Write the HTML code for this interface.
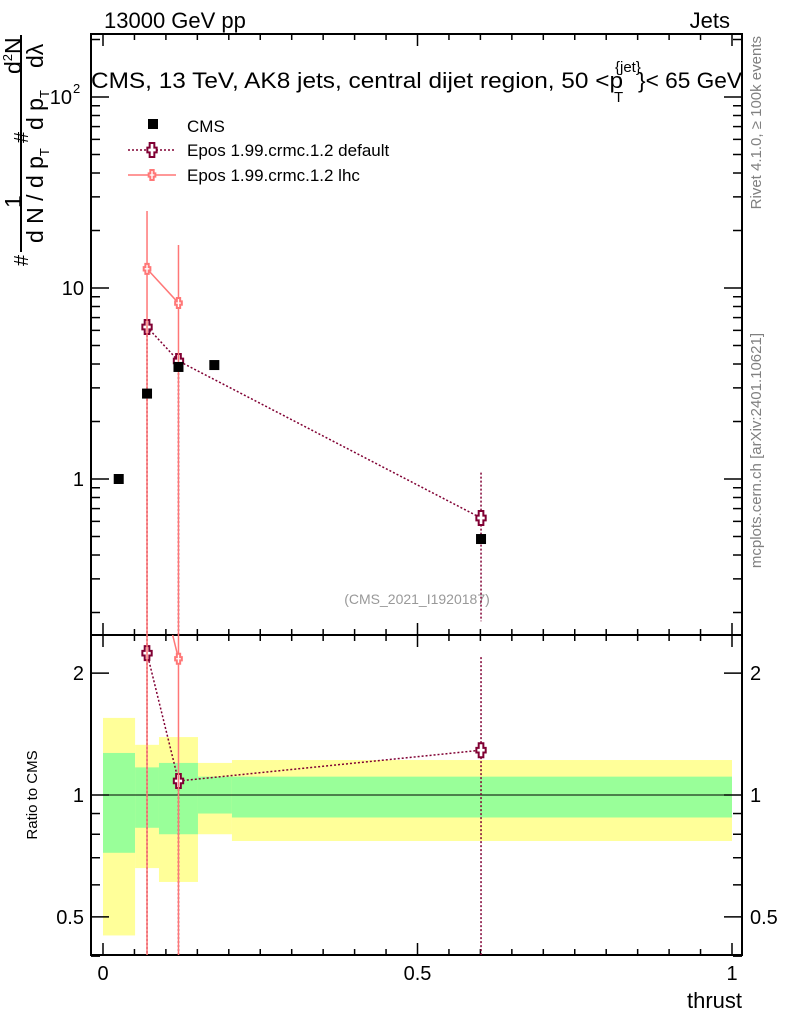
<!DOCTYPE html>
<html><head><meta charset="utf-8"><style>
body{margin:0;background:#fff}
svg{display:block;font-family:"Liberation Sans",sans-serif}
</style></head><body>
<svg id="c" width="786" height="1024" xmlns="http://www.w3.org/2000/svg"></svg>
<script>
const xs=[0.025,0.070,0.120,0.177,0.601];
const cmsVals=[1.0,2.8,3.86,3.95,0.485];
const defX=[0.070,0.120,0.601];
const defVals=[6.25,4.15,0.625];
const defUp=[6.25,4.15,1.08];
const defDn=[0.1,0.1,0.18];
const lhcX=[0.070,0.120];
const lhcVals=[12.6,8.34];
const lhcUp=[25.3,16.8];
const lhcDn=[0.1,0.1];
const defRatio=[2.24,1.083,1.29];
const defRatioUp=[3,1.083,2.19];
const defRatioDn=[0.3,0.3,0.3];
const lhcRatio=[4.5,2.17];
const binEdges=[0,0.051,0.089,0.151,0.205,1.0];
const yelLo=[0.45,0.66,0.61,0.80,0.77];
const yelHi=[1.55,1.33,1.39,1.2,1.22];
const grnLo=[0.72,0.83,0.80,0.90,0.88];
const grnHi=[1.27,1.17,1.2,1.11,1.11];
const xTicks=[0,0.5,1];
const xTickLabels=["0","0.5","1"];

const L=91,R=742,T=34,M=635,B=955;
const X=v=>103+v*629;
const Y=v=>479-Math.log10(v)*191;
const RY=v=>795-Math.log10(v)*405;
const clampM=y=>Math.max(T,Math.min(M,y));
const clampR=y=>Math.max(M,Math.min(B,y));
const svg=document.getElementById('c');
const NS='http://www.w3.org/2000/svg';
function el(tag,attrs,parent){const e=document.createElementNS(NS,tag);for(const k in attrs)e.setAttribute(k,attrs[k]);(parent||svg).appendChild(e);return e;}
function txt(s,attrs,parent){const e=el('text',attrs,parent);e.textContent=s;return e;}
function rtxt(s,x,y,size,parent){return txt(s,{x:0,y:0,'font-size':size,transform:`translate(${x},${y}) rotate(-90)`},parent);}

// bands
const gB=el('g',{});


for(let i=0;i<5;i++){
  const x0=X(binEdges[i]),x1=X(binEdges[i+1]);
  const y=el('rect',{x:x0,y:RY(yelHi[i]),width:x1-x0,height:Math.min(B,RY(yelLo[i]))-RY(yelHi[i]),fill:'#ffff99'},gB);
  
  
  const g=el('rect',{x:x0,y:RY(grnHi[i]),width:x1-x0,height:RY(grnLo[i])-RY(grnHi[i]),fill:'#99ff99'},gB);
  
  
}
el('line',{x1:L,x2:R,y1:RY(1),y2:RY(1),stroke:'#000','stroke-width':1});

// frames
const f1=el('rect',{x:L,y:T,width:R-L,height:M-T,fill:'none',stroke:'#000','stroke-width':2});


const f2=el('rect',{x:L,y:M,width:R-L,height:B-M,fill:'none',stroke:'#000','stroke-width':2});



// x ticks
for(let v=0;v<=1.0001;v+=0.05){
  const x=X(v),maj=Math.abs(v*2-Math.round(v*2))<1e-6,len=maj?12:6;
  [[T,1],[M,1],[M,-1],[B,-1]].forEach(([y0,d])=>el('line',{x1:x,x2:x,y1:y0,y2:y0+d*len,stroke:'#000','stroke-width':1.5}));
}
xTicks.forEach((v,i)=>{const t=txt(xTickLabels[i],{x:X(v),y:980,'font-size':20,'text-anchor':'middle'});});
const xt=txt('thrust',{x:742,y:1008,'font-size':22,'text-anchor':'end'});



// main y ticks
for(let d=-1;d<=2;d++){for(let m=1;m<=9;m++){const v=m*Math.pow(10,d);const y=Y(v);if(y<T||y>M)continue;const len=m==1?18:9;
 el('line',{x1:L,x2:L+len,y1:y,y2:y,stroke:'#000','stroke-width':1.5});el('line',{x1:R,x2:R-len,y1:y,y2:y,stroke:'#000','stroke-width':1.5});}}
[[1,'1'],[10,'10']].forEach(([v,s])=>{const t=txt(s,{x:84,y:Y(v)+7,'font-size':20,'text-anchor':'end'});});
const t100=txt('10',{x:72,y:Y(100)+7,'font-size':20,'text-anchor':'end'});


txt('2',{x:73,y:Y(100)-4,'font-size':13});
// ratio y ticks
[0.4,0.5,0.6,0.7,0.8,0.9,1,2].forEach(v=>{const y=RY(v);const len=(v==0.5||v==1||v==2)?18:9;
 el('line',{x1:L,x2:L+len,y1:y,y2:y,stroke:'#000','stroke-width':1.5});el('line',{x1:R,x2:R-len,y1:y,y2:y,stroke:'#000','stroke-width':1.5});});
[[0.5,'0.5'],[1,'1'],[2,'2']].forEach(([v,s])=>{
 let t=txt(s,{x:84,y:RY(v)+7,'font-size':20,'text-anchor':'end'});
 t=txt(s,{x:750,y:RY(v)+7,'font-size':20});});
const rt=txt('Ratio to CMS',{x:0,y:0,'font-size':15,'text-anchor':'middle',transform:'translate(37,795) rotate(-90)'});



// y title
const yt=el('g',{});


el('line',{x1:21,x2:21,y1:35,y2:252,stroke:'#000','stroke-width':2},yt);
rtxt('1',21,208,23,yt);
const n2=rtxt('d',21,74,23,yt);
const s2=el('tspan',{'font-size':13,dy:-9},n2);s2.textContent='2';
const sN=el('tspan',{dy:9},n2);sN.textContent='N';
const dn=rtxt('d N / d p',43,243,23,yt);
const t1=el('tspan',{'font-size':13,dy:6},dn);t1.textContent='T';
const dp=rtxt('d p',43,130,23,yt);
const t2=el('tspan',{'font-size':13,dy:6},dp);t2.textContent='T';
rtxt('d\u03BB',43,68,23,yt);
rtxt('#',28,266,20,yt);
rtxt('#',28,143,20,yt);

// header texts
let h=txt('13000 GeV pp',{x:104,y:28,'font-size':22});
h=txt('Jets',{x:730,y:28,'font-size':22,'text-anchor':'end'});
h=txt('CMS, 13 TeV, AK8 jets, central dijet region, 50 <p',{x:91,y:88,'font-size':22,textLength:532,lengthAdjust:'spacingAndGlyphs'});
txt('{jet}',{x:615,y:72,'font-size':15});
txt('T',{x:614,y:102,'font-size':15});
txt('}< 65 GeV',{x:638,y:88,'font-size':22,textLength:104,lengthAdjust:'spacingAndGlyphs'});
h=txt('Rivet 4.1.0, \u2265 100k events',{x:0,y:0,'font-size':15,fill:'#808080','text-anchor':'end',transform:'translate(761,36) rotate(-90)'});
h=txt('mcplots.cern.ch [arXiv:2401.10621]',{x:0,y:0,'font-size':15,fill:'#808080','text-anchor':'end',transform:'translate(761,333) rotate(-90)'});
h=txt('(CMS_2021_I1920187)',{x:417,y:604,'font-size':14,fill:'#999','text-anchor':'middle'});

// legend
const lg=el('g',{});


el('rect',{x:148,y:119,width:10,height:10,fill:'#000'},lg);
txt('CMS',{x:187,y:132,'font-size':17},lg);
el('line',{x1:128,x2:176,y1:150,y2:150,stroke:'#800033','stroke-width':1.5,'stroke-dasharray':'2,2'},lg);
txt('Epos 1.99.crmc.1.2 default',{x:187,y:156,'font-size':17},lg);
el('line',{x1:128,x2:176,y1:175,y2:175,stroke:'#ff7777','stroke-width':1.5},lg);
txt('Epos 1.99.crmc.1.2 lhc',{x:187,y:181,'font-size':17},lg);
function cross(cx,cy,col,s,parent,name){const p=`M${cx-s/3},${cy-s} h${2*s/3} v${2*s/3} h${s/3} v${2*s/3} h${-s/3} v${2*s/3} h${-2*s/3} v${-2*s/3} h${-s/3} v${-2*s/3} h${s/3} z`;
 const e=el('path',{d:p,fill:'#fff',stroke:col,'stroke-width':2},parent);return e;}
cross(152,150,'#800033',7,lg,'legend-marker-default');
cross(152,175,'#ff7777',5,lg,'legend-marker-lhc');

// series main
const gd=el('g',{});
el('polyline',{points:defX.map((x,i)=>X(x)+','+Y(defVals[i])).join(' '),fill:'none',stroke:'#800033','stroke-width':1.5,'stroke-dasharray':'2,2'},gd);
defX.forEach((x,i)=>el('line',{x1:X(x),x2:X(x),y1:clampM(Y(defUp[i])),y2:clampM(Y(defDn[i])),stroke:'#800033','stroke-width':1.5,'stroke-dasharray':'2,2'},gd));
const gl=el('g',{});
el('polyline',{points:lhcX.map((x,i)=>X(x)+','+Y(lhcVals[i])).join(' '),fill:'none',stroke:'#ff7777','stroke-width':1.5},gl);
lhcX.forEach((x,i)=>el('line',{x1:X(x),x2:X(x),y1:clampM(Y(lhcUp[i])),y2:clampM(Y(lhcDn[i])),stroke:'#ff7777','stroke-width':1.5},gl));
const gc=el('g',{});
xs.forEach((x,i)=>{const r=el('rect',{x:X(x)-5,y:Y(cmsVals[i])-5,width:10,height:10,fill:'#000'},gc);});
lhcX.forEach((x,i)=>cross(X(x),Y(lhcVals[i]),'#ff7777',5,gl,'lhc-point'));
defX.forEach((x,i)=>cross(X(x),Y(defVals[i]),'#800033',7,gd,'default-point'));

// ratio series
const rd=el('g',{});
const rl=el('g',{});
const cp=el('clipPath',{id:'rc'});el('rect',{x:L,y:M,width:R-L,height:B-M},cp);
rl.setAttribute('clip-path','url(#rc)');rd.setAttribute('clip-path','url(#rc)');
el('polyline',{points:lhcX.map((x,i)=>X(x)+','+RY(lhcRatio[i])).join(' '),fill:'none',stroke:'#ff7777','stroke-width':1.5},rl);
lhcX.forEach(x=>el('line',{x1:X(x),x2:X(x),y1:M,y2:B,stroke:'#ff7777','stroke-width':1.5},rl));
lhcX.forEach((x,i)=>{if(RY(lhcRatio[i])>M)cross(X(x),RY(lhcRatio[i]),'#ff7777',5,rl,'lhc-ratio-point');});
el('polyline',{points:defX.map((x,i)=>X(x)+','+RY(defRatio[i])).join(' '),fill:'none',stroke:'#800033','stroke-width':1.5,'stroke-dasharray':'2,2'},rd);
defX.forEach((x,i)=>el('line',{x1:X(x),x2:X(x),y1:clampR(RY(defRatioUp[i])),y2:clampR(RY(defRatioDn[i])),stroke:'#800033','stroke-width':1.5,'stroke-dasharray':'2,2'},rd));
defX.forEach((x,i)=>cross(X(x),RY(defRatio[i]),'#800033',7,rd,'default-ratio-point'));
</script>
</body></html>
